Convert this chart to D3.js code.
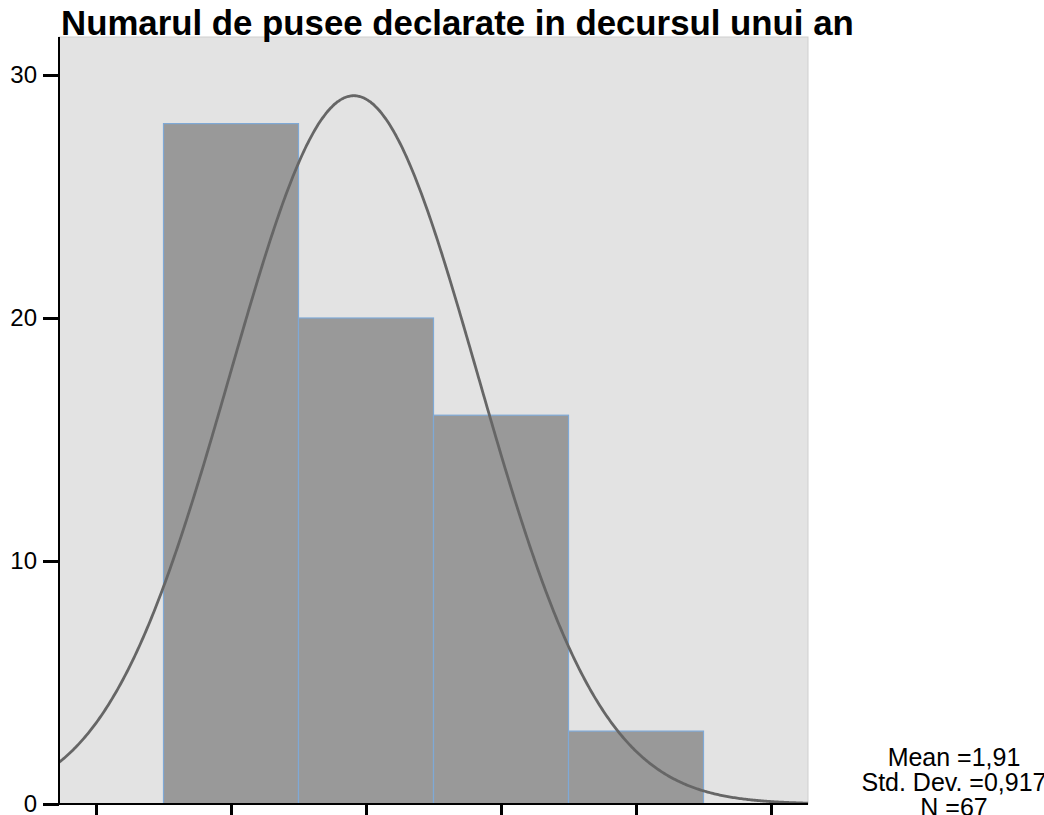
<!DOCTYPE html>
<html>
<head>
<meta charset="utf-8">
<script src="https://cdn.jsdelivr.net/npm/d3@7"></script>
<style>
  body { margin: 0; background: #fff; overflow: hidden; }
  svg { display: block; font-family: Arial, "Liberation Sans", sans-serif; }
</style>
</head>
<body>
<svg id="chart" width="1044" height="815"></svg>
<script>
// histogram bins (value -> count)
const binValues = [1, 2, 3, 4];
const binCounts = [28, 20, 16, 3];
const xTicks = [0, 1, 2, 3, 4, 5];
const yTicks = [0, 10, 20, 30];
const statLines = ['Mean =1,91', 'Std. Dev. =0,917', 'N =67'];
const mean = 1.91;
const stdDev = 0.917;
const total = 67;

const box = {left: 59, top: 37, right: 808, bottom: 804};

const svg = d3.select('#chart');

const x = d3.scaleLinear().domain([-0.274, 5.274]).range([box.left, box.right]);
const y = d3.scaleLinear().domain([0, 30]).range([box.bottom, 75]);

// plot background
svg.append('rect')
  .attr('x', box.left).attr('y', box.top)
  .attr('width', box.right - box.left).attr('height', box.bottom - box.top)
  .attr('fill', '#e3e3e3')
  .attr('stroke', '#cfcfcf')
  .attr('stroke-width', 1);

svg.append('clipPath').attr('id', 'plotclip')
  .append('rect')
  .attr('x', box.left).attr('y', box.top)
  .attr('width', box.right - box.left).attr('height', box.bottom - box.top);

// bars
const bins = binValues.map((v, i) => ({v: v, n: binCounts[i]}));
svg.append('g')
  .selectAll('rect')
  .data(bins)
  .join('rect')
  .attr('x', (d) => x(d.v - 0.5))
  .attr('width', (d) => x(d.v + 0.5) - x(d.v - 0.5))
  .attr('y', (d) => y(d.n))
  .attr('height', (d) => y(0) - y(d.n))
  .attr('fill', '#999999')
  .attr('stroke', '#7fa9d6')
  .attr('stroke-width', 1.2);

// normal curve scaled to the counts (bin width 1)
function normalCount(v) {
  const z = (v - mean) / stdDev;
  return total * Math.exp(-0.5 * z * z) / (stdDev * Math.sqrt(2 * Math.PI));
}
const curvePts = d3.range(-0.3, 5.31, 0.01);
svg.append('path')
  .datum(curvePts)
  .attr('clip-path', 'url(#plotclip)')
  .attr('fill', 'none')
  .attr('stroke', '#666666')
  .attr('stroke-width', 2.8)
  .attr('d', d3.line().x((v) => x(v)).y((v) => y(normalCount(v))).curve(d3.curveBasis));

// y axis
const yAxis = svg.append('g')
  .attr('transform', `translate(${box.left},0)`)
  .call(d3.axisLeft(y).tickValues(yTicks).tickSize(16).tickPadding(6).tickSizeOuter(0));
yAxis.select('.domain').remove();
yAxis.selectAll('.tick line').attr('stroke', '#000').attr('stroke-width', 3);
yAxis.selectAll('.tick text').attr('font-size', 24).attr('fill', '#000')
  .attr('font-family', 'Arial, "Liberation Sans", sans-serif');
svg.append('line')
  .attr('x1', box.left).attr('x2', box.left)
  .attr('y1', box.top).attr('y2', box.bottom + 1)
  .attr('stroke', '#000').attr('stroke-width', 2);

// x axis (labels fall below the visible area)
const xAxis = svg.append('g')
  .attr('transform', `translate(0,${box.bottom})`)
  .call(d3.axisBottom(x).tickValues(xTicks).tickSize(16).tickFormat('').tickSizeOuter(0));
xAxis.select('.domain').remove();
xAxis.selectAll('.tick line').attr('stroke', '#000').attr('stroke-width', 3);
svg.append('line')
  .attr('x1', box.left - 1).attr('x2', box.right)
  .attr('y1', box.bottom).attr('y2', box.bottom)
  .attr('stroke', '#000').attr('stroke-width', 2);

// title
svg.append('text')
  .attr('x', 61).attr('y', 35)
  .attr('font-size', 34.8)
  .attr('font-weight', 'bold')
  .attr('fill', '#000')
  .text('Numarul de pusee declarate in decursul unui an');

// stats box
svg.append('g')
  .selectAll('text')
  .data(statLines)
  .join('text')
  .attr('x', 954)
  .attr('y', (d, i) => 766 + i * 25)
  .attr('text-anchor', 'middle')
  .attr('font-size', 25)
  .attr('fill', '#000')
  .text((d) => d);
</script>
</body>
</html>
